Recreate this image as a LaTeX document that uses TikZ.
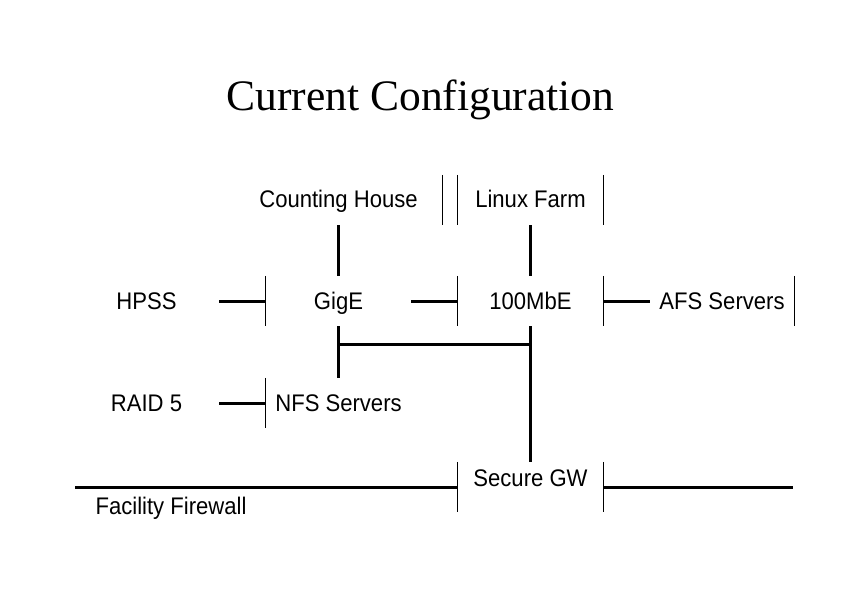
\documentclass[tikz,border=0pt]{standalone}
\usepackage{fontspec}
\setmainfont{Liberation Serif}
\newfontfamily\labfont[FakeStretch=0.92]{Liberation Sans}
\begin{document}
\begin{tikzpicture}[x=1pt,y=-1pt,
  box/.style={inner sep=0pt, minimum height=50pt, minimum width=145pt,
    text height=16pt, text depth=0pt,
    font=\labfont\fontsize{24}{24}\selectfont},
  lbl/.style={inner sep=0pt, anchor=base, font=\labfont\fontsize{24}{24}\selectfont},
  wire/.style={line width=3pt},
  rim/.style={line width=0.8pt}]
\useasboundingbox (0,0) rectangle (842,595);
\fill[white] (0,0) rectangle (842,595);

\node[inner sep=0pt, anchor=base, font=\fontsize{43.5}{43.5}\selectfont] (title) at (420.5,110) {Current Configuration};

\node[box, minimum width=207pt, text height=14pt] (ch) at (338.5,200) {Counting House};
\node[box, text height=14pt] (lf) at (530.5,200) {Linux Farm};
\node[box] (hpss) at (146.5,301) {HPSS};
\node[box] (gige) at (338.5,301) {GigE};
\node[box] (mbe) at (530.5,301) {100MbE};
\node[box, minimum width=144pt] (afs) at (722,301) {AFS Servers};
\node[box] (raid) at (146.5,403) {RAID 5};
\node[box] (nfs) at (338.5,403) {NFS Servers};
\node[box, text height=0pt, text depth=2pt] (gw) at (530.5,487) {Secure GW};
\node[lbl] (ffw) at (171,514) {Facility Firewall};

\coordinate (j1) at (338.5,344);
\coordinate (j2) at (530.5,344);
\coordinate (fwl) at (75,487);
\coordinate (fwr) at (793,487);

% visible box edges
\draw[rim] (ch.north east) -- (ch.south east);
\draw[rim] (lf.north west) -- (lf.south west);
\draw[rim] (lf.north east) -- (lf.south east);
\draw[rim] (gige.north west) -- (gige.south west);
\draw[rim] (mbe.north west) -- (mbe.south west);
\draw[rim] (mbe.north east) -- (mbe.south east);
\draw[rim] (afs.north east) -- (afs.south east);
\draw[rim] (nfs.north west) -- (nfs.south west);
\draw[rim] (gw.north west) -- (gw.south west);
\draw[rim] (gw.north east) -- (gw.south east);

% connectors
\draw[wire] (ch.south) -- (gige.north);
\draw[wire] (lf.south) -- (mbe.north);
\draw[wire] (hpss.east) -- (gige.west);
\draw[wire] (gige.east) -- (mbe.west);
\draw[wire] (mbe.east) -- (afs.west);
\draw[wire] (gige.south) -- (nfs.north);
\draw[wire] (mbe.south) -- (gw.north);
\draw[wire] (j1) -- (j2);
\draw[wire] (raid.east) -- (nfs.west);
\draw[wire] (fwl) -- (gw.west);
\draw[wire] (gw.east) -- (fwr);
\end{tikzpicture}
\end{document}
